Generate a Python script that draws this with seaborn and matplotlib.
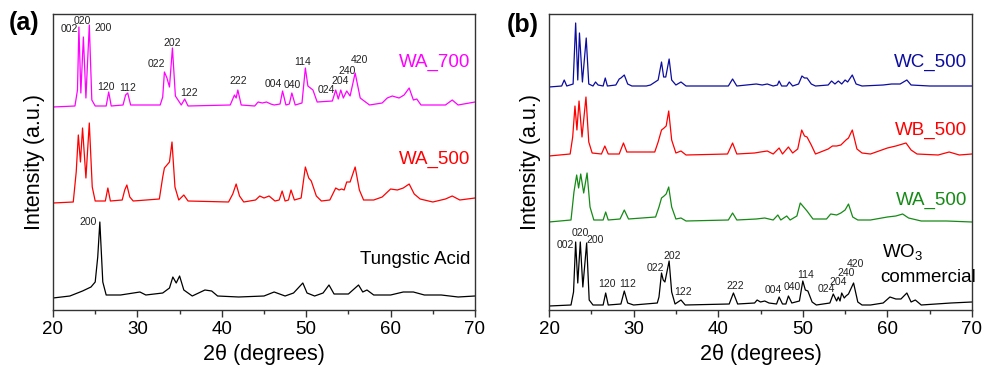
import matplotlib
matplotlib.use("Agg")
import matplotlib.pyplot as plt
import seaborn as sns
import pandas as pd
from matplotlib.ticker import MultipleLocator

# ---------------- data (2theta, intensity a.u.) ----------------
wa700 = [(20.0,205),(22.6,206),(22.9,222),(23.07,285),(23.3,219),(23.6,275),(23.9,214),(24.3,287),(24.6,212),(25.0,206),
         (26.3,206),(26.6,220),(26.9,206),(28.3,207),(28.6,217),(28.85,219),(29.2,207),(32.7,207),(33.0,215),(33.2,240),
         (33.5,234),(33.8,225),(34.15,264),(34.5,216),(35.2,207),(35.6,213),(36.0,206),(41.0,207),(41.5,217),(41.7,214),
         (41.9,222),(42.3,207),(43.9,206),(44.3,210),(44.8,209),(45.3,210),(45.8,208),(46.2,207),(46.9,208),(47.2,221),
         (47.6,207),(48.0,208),(48.3,219),(48.7,207),(49.5,209),(49.9,244),(50.2,226),(50.5,224),(50.8,222),(51.3,210),
         (53.1,211),(53.5,222),(53.8,213),(54.1,222),(54.4,214),(54.8,221),(55.2,216),(55.8,239),(56.4,214),(57.5,207),
         (59.0,209),(59.6,214),(60.2,216),(61.0,214),(61.6,217),(62.2,224),(62.7,212),(63.1,213),(63.6,207),(66.5,207),
         (67.3,212),(68.0,207),(70.0,210)]
wa500_a = [(20.0,109),(22.4,110),(22.75,140),(23.0,177),(23.25,150),(23.5,184),(23.9,134),(24.3,189),(24.65,125),(25.0,111),
           (26.2,111),(26.5,124),(26.8,111),(28.2,112),(28.5,122),(28.75,127),(29.1,115),(29.5,111),(32.6,113),(33.0,135),
           (33.2,144),(33.5,147),(33.8,150),(34.1,170),(34.45,125),(34.9,112),(35.5,117),(36.0,111),(40.8,110),(41.3,118),
           (41.7,128),(42.1,116),(42.6,110),(44.0,112),(44.5,116),(45.0,114),(45.6,116),(46.3,111),(46.8,112),(47.15,121),
           (47.5,111),(47.9,112),(48.2,122),(48.6,112),(49.4,114),(49.9,145),(50.3,134),(50.6,131),(51.2,116),(51.8,111),
           (52.8,112),(53.5,124),(53.9,122),(54.2,123),(54.5,122),(54.8,130),(55.2,130),(55.8,145),(56.3,122),(56.8,112),
           (58.0,112),(59.0,115),(60.0,123),(60.8,122),(61.5,124),(62.2,128),(62.8,118),(63.5,113),(65.0,110),(66.5,113),
           (67.3,116),(68.2,112),(70.0,114)]
tungstic = [(20.0,14),(22.0,16),(23.5,21),(24.5,25),(25.0,30),(25.3,55),(25.55,90),(25.9,30),(26.3,17),(28.0,17),
            (30.3,20),(31.0,17),(33.0,19),(33.8,24),(34.2,35),(34.6,29),(35.0,36),(35.5,22),(36.5,16),(38.0,22),
            (38.8,21),(39.5,16),(42.0,15),(45.0,16),(46.2,20),(47.5,16),(48.5,19),(49.6,29),(50.1,19),(51.0,16),
            (52.0,19),(52.7,27),(53.3,18),(55.0,18),(56.2,27),(56.7,20),(57.2,22),(58.0,17),(60.0,17),(61.5,20),
            (62.7,20),(64.0,17),(66.0,17),(68.0,15),(70.0,16)]

wc500 = [(20.0,225),(21.5,226),(21.8,232),(22.1,226),(22.85,228),(23.15,289),(23.4,232),(23.6,279),(23.95,230),(24.4,274),
         (24.7,228),(25.2,226),(25.5,230),(25.8,227),(26.4,226),(26.65,234),(26.9,226),(27.9,227),(28.3,233),(28.5,234),
         (28.9,237),(29.3,228),(29.8,226),(31.5,226),(32.0,227),(32.9,232),(33.3,250),(33.55,235),(33.8,235),(34.2,253),
         (34.5,232),(35.0,227),(35.6,230),(36.2,226),(41.2,226),(41.7,233),(42.2,226),(44.5,228),(45.2,227),(45.8,228),
         (46.5,226),(47.0,227),(47.2,231),(47.5,226),(48.1,226),(48.4,230),(48.8,226),(49.5,228),(49.9,236),(50.2,234),
         (50.5,234),(51.0,228),(51.5,226),(53.0,227),(53.4,231),(53.8,228),(54.2,231),(54.6,228),(55.0,232),(55.3,230),
         (55.85,237),(56.3,228),(57.0,226),(59.5,227),(60.5,228),(61.5,228),(62.3,232),(62.8,227),(65.0,226),(68.0,226),
         (70.0,226)]
wb500 = [(20.0,156),(22.5,158),(22.8,175),(23.07,206),(23.3,182),(23.55,211),(23.9,175),(24.37,215),(24.7,170),(25.1,159),
         (26.2,158),(26.6,166),(27.0,158),(28.3,158),(28.8,169),(29.2,160),(32.5,160),(32.9,170),(33.3,182),(33.6,184),
         (33.85,186),(34.15,201),(34.5,172),(35.0,159),(35.6,161),(36.2,157),(41.1,158),(41.7,169),(42.2,158),(44.3,159),
         (45.0,160),(45.8,161),(46.5,158),(47.2,164),(47.6,158),(48.3,165),(48.8,159),(49.4,163),(49.87,182),(50.2,176),
         (50.5,175),(51.0,167),(51.5,158),(53.0,163),(53.5,166),(54.0,166),(54.5,167),(55.1,172),(55.4,174),(55.85,182),
         (56.4,163),(57.0,159),(58.0,158),(60.0,164),(61.0,166),(62.2,169),(62.8,162),(63.5,158),(66.0,157),(67.3,160),
         (68.5,157),(70.0,158)]
wa500_b = [(20.0,90),(22.6,92),(22.95,120),(23.27,137),(23.5,124),(23.75,138),(24.1,119),(24.5,139),(24.85,105),(25.3,92),
           (26.4,92),(26.7,100),(27.0,92),(28.4,93),(28.9,102),(29.4,93),(32.6,95),(33.0,105),(33.3,114),(33.6,116),
           (33.85,118),(34.15,125),(34.5,105),(35.0,93),(35.6,94),(36.2,91),(41.2,92),(41.7,99),(42.2,92),(44.5,93),
           (45.5,94),(46.5,92),(47.05,97),(47.4,92),(48.1,96),(48.5,92),(49.3,96),(49.7,109),(50.1,105),(50.5,101),
           (51.2,93),(52.8,93),(53.3,98),(54.0,97),(54.5,99),(55.0,102),(55.4,108),(55.9,95),(56.5,92),(58.0,92),
           (60.0,95),(61.0,96),(61.8,98),(62.5,94),(64.0,91),(67.0,91),(70.0,90)]
wo3_comm = [(20.0,6),(22.6,7),(22.9,20),(23.15,70),(23.4,29),(23.7,70),(24.0,25),(24.45,69),(24.75,12),(25.2,7),
            (26.4,7),(26.7,19),(27.0,7),(28.5,8),(28.9,21),(29.3,9),(30.0,7),(32.8,9),(33.0,15),(33.3,39),
            (33.5,32),(33.7,30),(34.2,51),(34.5,20),(34.9,8),(35.6,12),(36.1,7),(41.3,8),(41.8,19),(42.3,8),
            (44.3,9),(44.6,12),(45.0,10),(45.5,11),(46.0,9),(46.9,8),(47.2,15),(47.6,8),(48.0,8),(48.3,16),
            (48.7,9),(49.6,11),(50.0,31),(50.3,22),(50.6,21),(51.1,10),(51.6,7),(53.2,9),(53.6,18),(54.0,11),
            (54.2,15),(54.4,11),(54.6,19),(54.9,14),(55.1,16),(55.4,18),(56.0,29),(56.5,10),(57.0,7),(58.0,7),
            (59.5,9),(60.3,15),(61.0,13),(61.6,13),(62.3,19),(62.8,10),(63.3,12),(64.0,7),(67.5,9),(70.0,10)]

hkl_a = ["002","020","200","120","112","022","202","122","222","004","040","114","024","204","240","420"]
hkl_b = hkl_a

x_ticks = [20, 30, 40, 50, 60, 70]

# ---------------- style ----------------
sns.set_style("white")
plt.rcParams["font.family"] = ["Liberation Sans", "DejaVu Sans"]
plt.rcParams["mathtext.fontset"] = "custom"
plt.rcParams["mathtext.rm"] = "Liberation Sans"
plt.rcParams["mathtext.it"] = "Liberation Sans:italic"
plt.rcParams["text.color"] = "black"
plt.rcParams["axes.labelcolor"] = "black"
plt.rcParams["xtick.color"] = "black"
plt.rcParams["xtick.labelcolor"] = "black"

def frame(points, name):
    d = pd.DataFrame(points, columns=["two_theta", "intensity"])
    d["sample"] = name
    return d

df_a = pd.concat([frame(wa700, "WA_700"), frame(wa500_a, "WA_500"), frame(tungstic, "Tungstic Acid")])
df_b = pd.concat([frame(wc500, "WC_500"), frame(wb500, "WB_500"), frame(wa500_b, "WA_500"),
                  frame(wo3_comm, "WO3 commercial")])

pal_a = {"WA_700": "#FF00FF", "WA_500": "#FF0000", "Tungstic Acid": "#000000"}
pal_b = {"WC_500": "#0C0CA0", "WB_500": "#FF0000", "WA_500": "#168A16", "WO3 commercial": "#000000"}

fig = plt.figure(figsize=(9.83, 3.72), dpi=100)
ax_a = fig.add_axes([53/983, 1-310/372, 422/983, 296/372])
ax_b = fig.add_axes([549/983, 1-310/372, 423/983, 296/372])

sns.lineplot(data=df_a, x="two_theta", y="intensity", hue="sample", palette=pal_a,
             ax=ax_a, legend=False, linewidth=0.9, sort=False, estimator=None)
sns.lineplot(data=df_b, x="two_theta", y="intensity", hue="sample", palette=pal_b,
             ax=ax_b, legend=False, linewidth=0.9, sort=False, estimator=None)

for ax in (ax_a, ax_b):
    ax.set_xlim(20, 70)
    ax.set_ylim(2, 298)
    ax.set_xticks(x_ticks)
    ax.xaxis.set_minor_locator(MultipleLocator(5))
    ax.set_yticks([])
    ax.tick_params(axis="x", which="major", direction="out", length=5, width=1,
                   labelsize=13.5, pad=3, bottom=True, color="#333333", labelcolor="black")
    ax.tick_params(axis="x", which="minor", direction="out", length=3, width=1,
                   bottom=True, color="#333333")
    for s in ax.spines.values():
        s.set_linewidth(1.0)
        s.set_color("#333333")
    ax.set_xlabel("2θ (degrees)", fontsize=15.5, labelpad=4, color="black")
    ax.set_ylabel("Intensity (a.u.)", fontsize=15.5, labelpad=6, color="black")

# peak labels panel a
pos_a = [(21.9,283),(23.5,291),(25.9,284),(26.3,225),(28.9,224),(32.25,248),(34.15,269),(36.1,219),
         (41.9,231),(46.05,228),(48.3,227),(49.6,250),(52.35,222),(54.0,231),(54.8,241),(56.3,252)]
for lab, (x, y) in zip(hkl_a, pos_a):
    ax_a.text(x, y, lab, fontsize=7.5, ha="center", va="center", color="#222222")
ax_a.text(24.2, 90, "200", fontsize=7.5, ha="center", va="center", color="#222222")

pos_b = [(21.9,67),(23.75,79),(25.45,72),(26.8,28),(29.25,28),(32.6,44),(34.55,56),(35.8,20),
         (42.0,26),(46.45,22),(48.8,25),(50.35,37),(52.75,23),(54.2,30),(55.1,39),(56.2,48)]
for lab, (x, y) in zip(hkl_b, pos_b):
    ax_b.text(x, y, lab, fontsize=7.5, ha="center", va="center", color="#222222")

# series labels
ax_a.text(69.4, 250, "WA_700", fontsize=13.5, color="#FF00FF", ha="right", va="center")
ax_a.text(69.5, 153, "WA_500", fontsize=13.5, color="#FF0000", ha="right", va="center")
ax_a.text(69.5, 52, "Tungstic Acid", fontsize=13.5, color="#000000", ha="right", va="center")

ax_b.text(69.4, 250, "WC_500", fontsize=13.5, color="#0C0CA0", ha="right", va="center")
ax_b.text(69.4, 182, "WB_500", fontsize=13.5, color="#FF0000", ha="right", va="center")
ax_b.text(69.5, 112, "WA_500", fontsize=13.5, color="#168A16", ha="right", va="center")
ax_b.text(59.4, 60, "WO$_3$", fontsize=13.5, color="#000000", ha="left", va="center")
ax_b.text(59.2, 35, "commercial", fontsize=13.5, color="#000000", ha="left", va="center")

fig.text(24/983, 1-23/372, "(a)", fontsize=18, fontweight="bold", ha="center", va="center", color="black")
fig.text(523/983, 1-25/372, "(b)", fontsize=18, fontweight="bold", ha="center", va="center", color="black")

fig.savefig("out.png", dpi=100)
